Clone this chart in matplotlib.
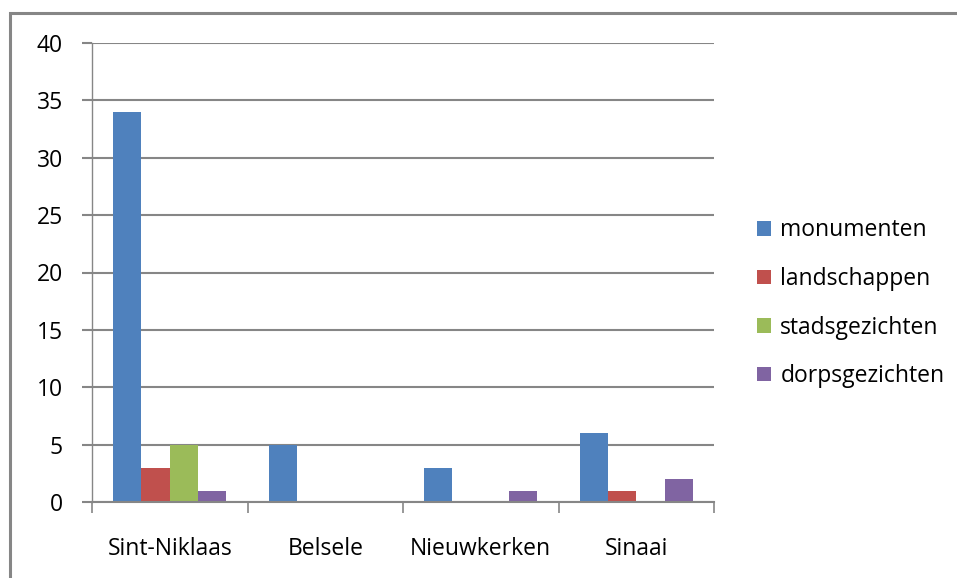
import numpy as np
import matplotlib.pyplot as plt
from matplotlib.patches import Rectangle

# Data
categories = ['Sint-Niklaas', 'Belsele', 'Nieuwkerken', 'Sinaai']
series_names = ['monumenten', 'landschappen', 'stadsgezichten', 'dorpsgezichten']
monumenten = [34, 5, 3, 6]
landschappen = [3, 0, 0, 1]
stadsgezichten = [5, 0, 0, 0]
dorpsgezichten = [1, 0, 1, 2]
y_ticks = [0, 5, 10, 15, 20, 25, 30, 35, 40]

colors = ['#4F81BD', '#C0504D', '#9BBB59', '#8064A2']
grid_color = '#868686'
fs = 16.5

plt.rcParams['font.family'] = ['Open Sans', 'DejaVu Sans']

fig = plt.figure(figsize=(9.57, 5.78), dpi=100)
ax = fig.add_axes([92 / 957, 1 - 502 / 578, (714 - 92) / 957, (502 - 43) / 578])

# outer chart frame (only left and top visible in the reference)
fig.patches.append(Rectangle((10 / 957, -0.05), 1.1, 1 - 13 / 578 + 0.05,
                             transform=fig.transFigure, fill=False,
                             edgecolor=grid_color, linewidth=2.2))

x = np.arange(len(categories))
bar_w = 1 / (4 + 1.5)
all_series = [monumenten, landschappen, stadsgezichten, dorpsgezichten]
for i, (name, vals) in enumerate(zip(series_names, all_series)):
    ax.bar(x - 2 * bar_w + (i + 0.5) * bar_w, vals, width=bar_w,
           color=colors[i], label=name, zorder=3)

ax.set_xlim(-0.5, len(categories) - 0.5)
ax.set_ylim(0, 40)
ax.set_yticks(y_ticks)
ax.yaxis.grid(True, color=grid_color, linewidth=1.5, zorder=0)
ax.tick_params(axis='y', length=7, width=1.5, color=grid_color, pad=14,
               labelsize=fs)

# category ticks at the group boundaries, labels centred under groups
ax.set_xticks(np.arange(len(categories) + 1) - 0.5)
ax.set_xticklabels([])
ax.set_xticks(x, minor=True)
ax.set_xticklabels(categories, minor=True)
ax.tick_params(axis='x', which='major', length=8, width=1.2, color=grid_color)
ax.tick_params(axis='x', which='minor', length=0, pad=25, labelsize=fs)

for side in ['top', 'right']:
    ax.spines[side].set_visible(False)
ax.spines['left'].set_color(grid_color)
ax.spines['left'].set_linewidth(1)
ax.spines['bottom'].set_color(grid_color)
ax.spines['bottom'].set_linewidth(1.5)
ax.spines['bottom'].set_zorder(4)

ax.legend(loc='center left', bbox_to_anchor=(1.055, 0.433), frameon=False,
          fontsize=fs, handlelength=0.6, handleheight=0.6,
          handletextpad=0.4, labelspacing=1.07, borderaxespad=0)

fig.savefig('out.png', dpi=100)
